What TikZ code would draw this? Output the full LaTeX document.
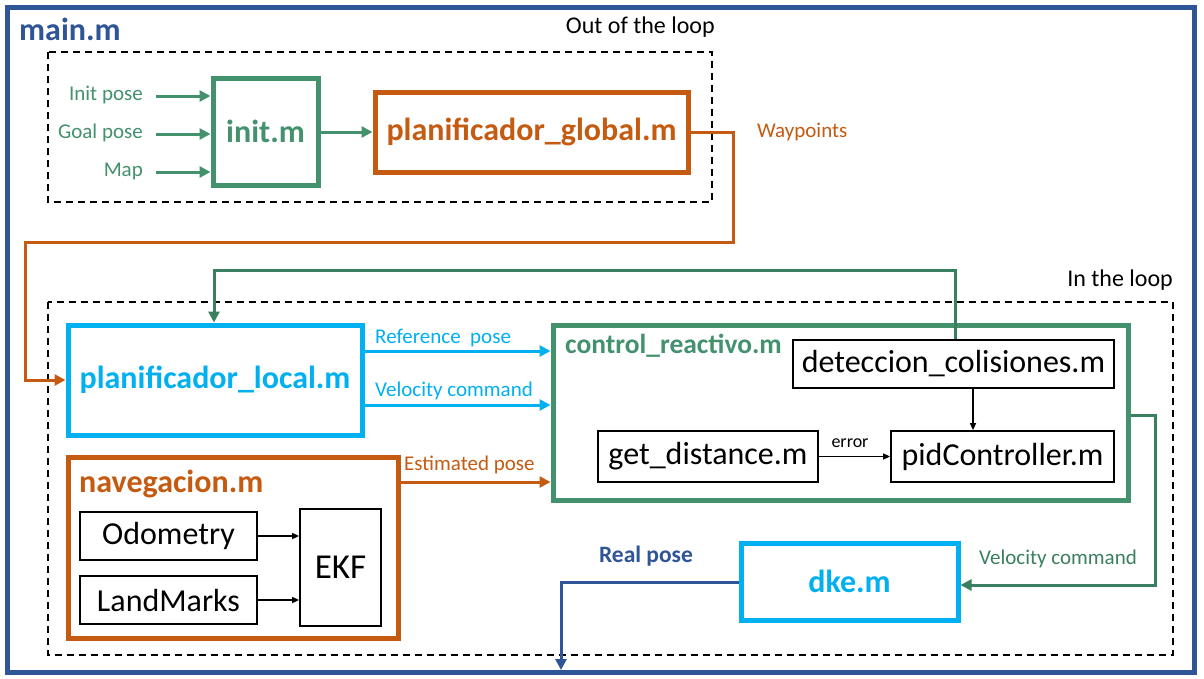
\documentclass[tikz,border=0pt]{standalone}
\usepackage{fontspec}
\setmainfont{Carlito}
\usetikzlibrary{arrows.meta}
\definecolor{cgreen}{RGB}{67,145,109}
\definecolor{cdgreen}{RGB}{58,128,96}
\definecolor{corange}{RGB}{197,90,17}
\definecolor{ccyan}{RGB}{0,176,240}
\definecolor{cblue}{RGB}{47,85,151}
\begin{document}
\begin{tikzpicture}[x=1pt,y=-1pt,
  box/.style={draw, line width=5pt, inner sep=0pt, font=\fontsize{32}{36}\selectfont\bfseries},
  blk/.style={draw=black, line width=1.8pt, inner sep=0pt, font=\fontsize{32}{36}\selectfont},
  lbl/.style={font=\fontsize{21}{25}\selectfont, inner sep=0pt},
  conn/.style={line width=3pt, -{Triangle[length=11pt,width=11pt]}},
  barrow/.style={line width=1.5pt, -{Triangle[length=7pt,width=6pt]}},
  frame/.style={dashed, line width=1.8pt, dash pattern=on 7pt off 5pt}
]
\useasboundingbox[fill=white] (0,0) rectangle (1204,678);
\draw[cblue, line width=5pt] (7,7) rectangle (1194,672);
\node[anchor=west, inner sep=0pt, text=cblue, font=\fontsize{32}{36}\selectfont\bfseries] (mainlbl) at (19,29) {main.m};

\draw[frame] (48,52) rectangle (712,202);
\draw[frame] (48,302) rectangle (1173,655);
\node[font=\fontsize{24}{28}\selectfont, inner sep=0pt, anchor=east] (outl) at (715,27) {Out of the loop};
\node[font=\fontsize{24}{28}\selectfont, inner sep=0pt, anchor=east] (inl) at (1173,280) {In the loop};

% boxes
\node[box, draw=cgreen, text=cgreen, minimum width=105pt, minimum height=107pt] (init) at (265.5,131.5) {init.m};
\node[box, draw=corange, text=corange, minimum width=313pt, minimum height=80pt] (pg) at (531.5,132) {planificador\_global.m};
\node[box, draw=ccyan, text=ccyan, minimum width=294pt, minimum height=110pt] (pl) at (215,380) {planificador\_local.m};
\node[box, draw=corange, minimum width=330pt, minimum height=181pt] (nav) at (233,547.5) {};
\node[anchor=west, inner sep=0pt, text=corange, font=\fontsize{32}{36}\selectfont\bfseries] (navlbl) at (79,484) {navegacion.m};
\node[blk, minimum width=177pt, minimum height=48pt] (odo) at (168.5,536) {Odometry};
\node[blk, minimum width=177pt, minimum height=48pt] (land) at (168.5,600) {LandMarks};
\node[blk, minimum width=81pt, minimum height=117pt, font=\fontsize{35}{38}\selectfont] (ekf) at (340.5,567.5) {EKF};

\node[box, draw=cgreen, minimum width=575pt, minimum height=175pt] (ctrl) at (840.5,412.5) {};
\node[anchor=west, inner sep=0pt, text=cgreen, font=\fontsize{27.5}{31}\selectfont\bfseries] (ctrllbl) at (565,346) {control\_reactivo.m};
\node[blk, minimum width=321pt, minimum height=48pt] (det) at (953.5,364) {deteccion\_colisiones.m};
\node[blk, minimum width=220pt, minimum height=51pt] (gd) at (708,456.5) {get\_distance.m};
\node[blk, minimum width=223pt, minimum height=51pt] (pid) at (1002.5,456.5) {pidController.m};

\node[box, draw=ccyan, text=ccyan, minimum width=217pt, minimum height=77pt] (dke) at (849.5,581.5) {dke.m};

% inputs to init
\node[lbl, anchor=east, text=cgreen] (ip) at (143,95) {Init pose};
\node[lbl, anchor=east, text=cgreen] (gp) at (143,133) {Goal pose};
\node[lbl, anchor=east, text=cgreen] (mp) at (143,171) {Map};
\coordinate (a1) at (156,96);
\coordinate (a2) at (156,134);
\coordinate (a3) at (156,172);
\draw[conn, cgreen] (a1) -- (a1 -| init.west);
\draw[conn, cgreen] (a2) -- (a2 -| init.west);
\draw[conn, cgreen] (a3) -- (a3 -| init.west);
\draw[conn, cgreen] (init.east |- pg.west) -- (pg.west);

% waypoints
\coordinate (w1) at (733,132);
\coordinate (w2) at (733,242);
\coordinate (w3) at (25,242);
\coordinate (w4) at (25,380);
\draw[conn, corange] (pg.east) -- (w1) -- (w2) -- (w3) -- (w4) -- (pl.west);
\node[lbl, anchor=west, text=corange] (wpl) at (757,132) {Waypoints};

% feedback from deteccion
\coordinate (f1) at (955,270);
\coordinate (f2) at (214,270);
\draw[conn, cdgreen] (f1 |- det.north) -- (f1) -- (f2) -- (f2 |- pl.north);

% pl -> ctrl
\coordinate (r1) at (0,351);
\coordinate (r2) at (0,405);
\draw[conn, ccyan] (pl.east |- r1) -- (ctrl.west |- r1);
\draw[conn, ccyan] (pl.east |- r2) -- (ctrl.west |- r2);
\node[lbl, anchor=west, text=ccyan] (rpl) at (375,338) {Reference~ pose};
\node[lbl, anchor=west, text=ccyan] (vpl) at (375,391) {Velocity command};

% nav -> ctrl
\coordinate (e1) at (0,482);
\draw[conn, corange] (nav.east |- e1) -- (ctrl.west |- e1);
\node[lbl, anchor=west, text=corange] (epl) at (404,465) {Estimated pose};

% inside nav
\draw[barrow] (odo.east) -- (odo.east -| ekf.west);
\draw[barrow] (land.east) -- (land.east -| ekf.west);

% inside ctrl
\coordinate (d1) at (973,0);
\draw[barrow] (d1 |- det.south) -- (d1 |- pid.north);
\draw[barrow] (gd.east) -- (pid.west);
\node[inner sep=0pt, font=\fontsize{18}{21}\selectfont] (err) at (850,443) {error};

% ctrl -> dke
\coordinate (c1) at (1155,415);
\coordinate (c2) at (1155,585);
\draw[conn, cdgreen] (ctrl.east |- c1) -- (c1) -- (c2) -- (c2 -| dke.east);
\node[lbl, anchor=west, text=cdgreen] (vcl) at (979,559) {Velocity command};

% dke -> real pose
\coordinate (p1) at (561,582);
\coordinate (p2) at (561,670);
\draw[conn, cblue] (dke.west |- p1) -- (p1) -- (p2);
\node[inner sep=0pt, text=cblue, font=\fontsize{23.5}{27}\selectfont\bfseries] (rpl2) at (646,556) {Real pose};
\end{tikzpicture}
\end{document}
